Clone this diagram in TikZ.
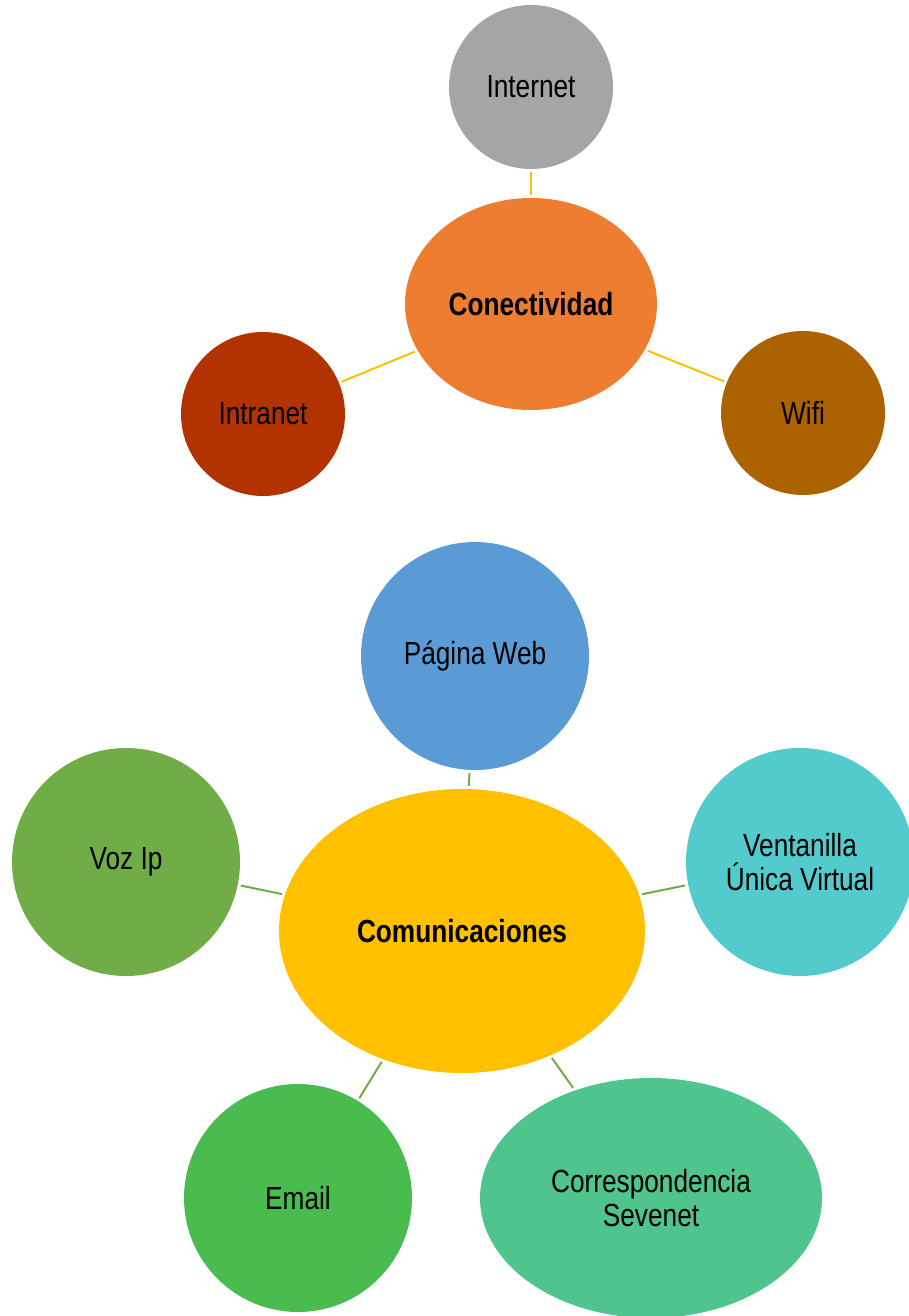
\documentclass[tikz,border=0pt]{standalone}
\usepackage{fontspec}
\setmainfont[FakeStretch=0.82]{Liberation Sans}
\usetikzlibrary{shapes.geometric}
\definecolor{cInternet}{HTML}{A5A5A5}
\definecolor{cConect}{HTML}{ED7D31}
\definecolor{cIntranet}{HTML}{B33300}
\definecolor{cWifi}{HTML}{AD6200}
\definecolor{cLinkA}{HTML}{FFC000}
\definecolor{cPagina}{HTML}{5B9BD5}
\definecolor{cComun}{HTML}{FFC000}
\definecolor{cVoz}{HTML}{70AD47}
\definecolor{cVentana}{HTML}{53CBCC}
\definecolor{cEmail}{HTML}{4ABB4F}
\definecolor{cCorresp}{HTML}{4FC48C}
\definecolor{cLinkB}{HTML}{70AD47}

\begin{document}
\begin{tikzpicture}[x=1pt, y=-1pt,
    bubble/.style={circle, inner sep=0pt, align=center,
      font=\fontsize{32}{34}\selectfont},
    hub/.style={ellipse, inner sep=0pt, align=center,
      font=\fontsize{32}{34}\selectfont\bfseries},
    linkA/.style={cLinkA, line width=2pt, shorten <=3pt, shorten >=3pt},
    linkB/.style={cLinkB, line width=2pt, shorten <=3pt, shorten >=3pt}]
  \useasboundingbox (0,0) rectangle (908,1316);

  % Conectividad
  \node[hub, fill=cConect, minimum width=252, minimum height=212] (conect) at (531,304) {Conectividad};
  \node[bubble, fill=cInternet, minimum size=164] (internet) at (531,87) {Internet};
  \node[bubble, fill=cIntranet, minimum size=164] (intranet) at (263,414) {Intranet};
  \node[bubble, fill=cWifi, minimum size=164] (wifi) at (803,413) {Wifi};

  \draw[linkA] (conect) -- (internet);
  \draw[linkA] (conect) -- (intranet);
  \draw[linkA] (conect) -- (wifi);

  % Comunicaciones
  \node[hub, fill=cComun, minimum width=366, minimum height=284] (comun) at (462,931) {Comunicaciones};
  \node[bubble, fill=cPagina, minimum size=228] (pagina) at (475,656) {Página Web};
  \node[bubble, fill=cVoz, minimum size=228] (voz) at (126,862) {Voz Ip};
  \node[bubble, fill=cVentana, minimum size=228] (ventana) at (800,862) {Ventanilla\\Única Virtual};
  \node[bubble, fill=cEmail, minimum size=228] (email) at (298,1198) {Email};
  \node[bubble, ellipse, fill=cCorresp, minimum width=342, minimum height=240] (corresp) at (651,1198) {Correspondencia\\Sevenet};

  \draw[linkB] (comun) -- (pagina);
  \draw[linkB] (comun) -- (voz);
  \draw[linkB] (comun) -- (ventana);
  \draw[linkB] (comun) -- (email);
  \draw[linkB] (comun) -- (corresp);
\end{tikzpicture}
\end{document}
